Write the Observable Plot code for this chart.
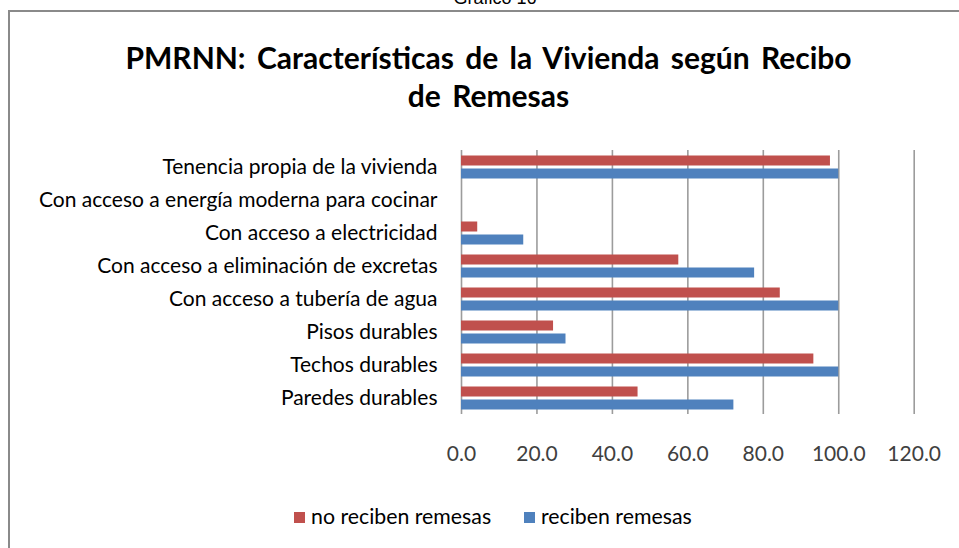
<!DOCTYPE html>
<html>
<head>
<meta charset="utf-8">
<script src="https://cdn.jsdelivr.net/npm/d3@7"></script>
<script src="https://cdn.jsdelivr.net/npm/@observablehq/plot@0.6"></script>
<style>
  html, body { margin: 0; padding: 0; background: #fff; }
  #root { position: relative; width: 959px; height: 548px; overflow: hidden; background: #fff; font-family: Lato, "Open Sans", sans-serif; }
  .topnote { position: absolute; left: 0; width: 990px; top: -12px; text-align: center; font-family: "Liberation Sans", Arial, sans-serif; font-size: 18px; color: #000; }
  .frameTop { position: absolute; left: 8px; top: 10px; width: 960px; height: 2px; background: #8a8a8a; }
  .frameLeft { position: absolute; left: 8px; top: 10px; width: 2px; height: 560px; background: #8a8a8a; }
  .title { position: absolute; left: 0; width: 977px; top: 38px; text-align: center; font-weight: 700; font-size: 30px; line-height: 38px; color: #000; word-spacing: 4px; }
  #chart { position: absolute; left: 0; top: 130px; }
  #chart svg { overflow: visible; }
  #chart g[aria-label="x-axis tick label"] text, #chart g[aria-label="x-axis tick label"] { fill: #404040; }
  .legend { position: absolute; top: 503px; left: 0; width: 959px; height: 30px; font-size: 21.3px; color: #000; }
  .legend .item { position: absolute; top: 0; white-space: nowrap; }
  .legend .sw { display: inline-block; width: 11px; height: 11px; margin-right: 6px; vertical-align: 1px; }
</style>
</head>
<body>
<div id="root">
  <div class="topnote">Gráfico 16</div>
  <div class="frameTop"></div>
  <div class="frameLeft"></div>
  <div class="title">PMRNN: Características de la Vivienda según Recibo<br>de Remesas</div>
  <div id="chart"></div>
  <div class="legend" id="legend"></div>
</div>
<script>
const categories = [
  "Tenencia propia de la vivienda",
  "Con acceso a energía moderna para cocinar",
  "Con acceso a electricidad",
  "Con acceso a eliminación de excretas",
  "Con acceso a tubería de agua",
  "Pisos durables",
  "Techos durables",
  "Paredes durables"
];
const seriesNames = ["no reciben remesas", "reciben remesas"];
const noReciben = [97.8, 0, 4.3, 57.6, 84.5, 24.4, 93.4, 46.8];
const reciben   = [100, 0, 16.5, 77.7, 100, 27.7, 100, 72.2];
const xTicks = [0, 20, 40, 60, 80, 100, 120];
const colors = ["#C0504D", "#4F81BD"];

const data = [];
categories.forEach((c, i) => {
  data.push({category: c, series: seriesNames[0], value: noReciben[i]});
  data.push({category: c, series: seriesNames[1], value: reciben[i]});
});

const chart = Plot.plot({
  width: 959,
  height: 347,
  marginTop: 17,
  marginBottom: 60,
  marginLeft: 461,
  marginRight: 45.3,
  style: {fontFamily: "Lato, 'Open Sans', sans-serif", fontSize: "21px", color: "#000", background: "transparent"},
  x: {domain: [0, 120], ticks: xTicks, tickFormat: d => d.toFixed(1), tickSize: 0, tickPadding: 32, label: null},
  y: {domain: seriesNames, axis: null, paddingInner: 0, paddingOuter: 0.2},
  fy: {domain: categories, padding: 0, axis: "left", tickSize: 0, tickPadding: 24, label: null},
  color: {domain: seriesNames, range: colors},
  marks: [
    Plot.ruleX(xTicks, {stroke: "#9c9c9c", strokeWidth: 1.6}),
    Plot.barX(data, {x: "value", y: "series", fy: "category", fill: "series", insetTop: 1.5, insetBottom: 1.5})
  ]
});
document.getElementById("chart").appendChild(chart);

const legend = document.getElementById("legend");
const legendX = [294, 524];
seriesNames.forEach((s, i) => {
  const item = document.createElement("div");
  item.className = "item";
  item.style.left = legendX[i] + "px";
  const sw = document.createElement("span");
  sw.className = "sw";
  sw.style.background = colors[i];
  item.appendChild(sw);
  item.appendChild(document.createTextNode(s));
  legend.appendChild(item);
});
</script>
</body>
</html>
